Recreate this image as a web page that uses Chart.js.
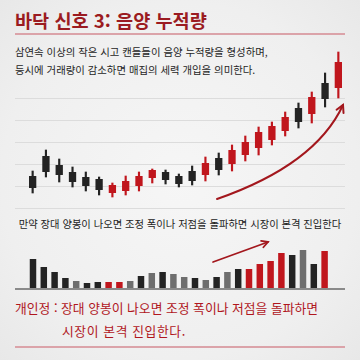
<!DOCTYPE html>
<html lang="ko">
<head>
<meta charset="utf-8">
<script src="https://cdn.jsdelivr.net/npm/chart.js@4.4.1/dist/chart.umd.min.js"></script>
<style>
  html, body { margin: 0; padding: 0; }
  body {
    width: 360px; height: 360px; position: relative; overflow: hidden;
    background: radial-gradient(ellipse at center, #f6f6f6 0%, #efefef 70%, #e8e8e8 100%);
    font-family: "Noto Sans CJK KR", "Noto Sans", sans-serif;
  }
  .abs { position: absolute; white-space: nowrap; }
  #title { left: 15px; top: 6px; font-size: 18.6px; font-weight: 700; color: #9b1b21; }
  .rule { position: absolute; left: 15px; width: 330px; height: 1.5px; background: #dba3a9; }
  .desc { left: 15px; font-size: 10.4px; color: #262626; }
  #mid { left: 15px; width: 330px; top: 216px; text-align: center; font-size: 10.3px; color: #222; }
  .note { font-size: 12.8px; color: #b0161d; }
  canvas { position: absolute; }
</style>
</head>
<body>
<div id="title" class="abs">바닥 신호 3: 음양 누적량</div>
<div class="rule" style="top:33px"></div>
<div class="abs desc" style="top:44px">삼연속 이상의 작은 시고 캔들들이 음양 누적량을 형성하며,</div>
<div class="abs desc" style="top:62px">등시에 거래량이 감소하면 매집의 세력 개입을 의미한다.</div>

<canvas id="candleChart" width="330" height="165" style="left:15px; top:45px"></canvas>

<div id="mid" class="abs">만약 장대 양봉이 나오면 조정 폭이나 저점을 돌파하면 시장이 본격 진입한다</div>

<canvas id="volumeChart" width="330" height="57" style="left:15px; top:235px"></canvas>

<div class="abs note" style="left:15px; top:298px">개인정 : 장대 양봉이 나오면 조정 폭이나 저점을 돌파하면</div>
<div class="abs note" style="left:62px; top:321px; letter-spacing:0.6px">시장이 본격 진입한다.</div>
<div class="rule" style="top:346px"></div>

<script>
// 캔들 데이터 (시가, 고가, 저가, 종가)
const candleOpen  = [34, 54, 45, 38, 33, 31, 17, 19, 24, 32, 38, 34, 39, 35, 52, 46, 55, 62, 70, 79, 102, 96, 127, 122];
const candleHigh  = [39, 60, 51, 43, 38, 33, 27, 34, 38, 41, 40, 36, 44, 53, 57, 65, 74, 83, 88, 98, 107, 118, 137, 158];
const candleLow   = [17, 33, 28, 23, 19, 15, 13, 15, 19, 27, 26, 23, 25, 29, 35, 39, 49, 55, 65, 74, 82, 87, 103, 112];
const candleClose = [22, 38, 35, 28, 24, 20, 25, 29, 34, 40, 30, 26, 29, 47, 40, 60, 68, 78, 84, 93, 88, 113, 111, 148];
const gridTicks = [2, 24, 46, 68, 90, 112];

// 거래량 데이터
const volumes    = [29, 21, 16, 10, 7, 5, 6, 6, 6, 7, 12, 15, 16, 14, 11, 10, 8, 11, 16, 19, 19, 24, 27, 35, 33, 38, 24, 37];
const volumeType = ['down', 'down', 'down', 'down', 'flat', 'down', 'down', 'up', 'up', 'flat',
                    'down', 'flat', 'down', 'flat', 'flat', 'down', 'flat', 'down', 'flat', 'down',
                    'up', 'up', 'up', 'up', 'down', 'flat', 'down', 'up'];

const RED = '#c0161d';
const DARK = '#232323';
const GRAY = '#6e6e6e';
const ARROW = '#a3171d';

const labels = candleOpen.map((_, i) => i + 1);
const candleColors = candleOpen.map((o, i) => candleClose[i] >= o ? RED : DARK);

function drawArrowHead(ctx, fromX, fromY, toX, toY, size) {
    const ang = Math.atan2(toY - fromY, toX - fromX);
    ctx.beginPath();
    ctx.moveTo(toX - size * Math.cos(ang - 0.5), toY - size * Math.sin(ang - 0.5));
    ctx.lineTo(toX, toY);
    ctx.lineTo(toX - size * Math.cos(ang + 0.5), toY - size * Math.sin(ang + 0.5));
    ctx.stroke();
}

// 가로 격자선 (캔버스 전체 폭)
const gridPlugin = {
    id: 'gridFull',
    beforeDatasetsDraw(chart) {
        const { ctx, scales: { y } } = chart;
        ctx.save();
        ctx.strokeStyle = '#dcdcdc';
        ctx.lineWidth = 1;
        gridTicks.forEach(t => {
            const py = Math.round(y.getPixelForValue(t)) + 0.5;
            ctx.beginPath();
            ctx.moveTo(0, py);
            ctx.lineTo(chart.width, py);
            ctx.stroke();
        });
        ctx.restore();
    }
};

// 상승 곡선 화살표
const curveArrow = {
    id: 'curveArrow',
    afterDatasetsDraw(chart) {
        const { ctx, scales: { x, y } } = chart;
        const sx = x.getPixelForValue(13.87), sy = y.getPixelForValue(11);
        const cx = x.getPixelForValue(21.25), cy = y.getPixelForValue(45);
        const ex = x.getPixelForValue(23.35), ey = y.getPixelForValue(105);
        ctx.save();
        ctx.strokeStyle = ARROW;
        ctx.lineWidth = 2;
        ctx.lineCap = 'round';
        ctx.beginPath();
        ctx.moveTo(sx, sy);
        ctx.quadraticCurveTo(cx, cy, ex, ey);
        ctx.stroke();
        drawArrowHead(ctx, cx, cy, ex, ey, 8);
        ctx.restore();
    }
};

new Chart(document.getElementById('candleChart').getContext('2d'), {
    type: 'bar',
    data: {
        labels: labels,
        datasets: [
            {
                label: '꼬리',
                data: candleLow.map((l, i) => [l, candleHigh[i]]),
                backgroundColor: candleColors,
                barThickness: 1.5,
                grouped: false,
                order: 2
            },
            {
                label: '몸통',
                data: candleOpen.map((o, i) => [o, candleClose[i]]),
                backgroundColor: candleColors,
                barPercentage: 0.55,
                categoryPercentage: 1,
                grouped: false,
                order: 1
            }
        ]
    },
    options: {
        responsive: false,
        animation: false,
        layout: { padding: { left: 11, right: 0, top: 0, bottom: 0 } },
        plugins: { legend: { display: false }, tooltip: { enabled: false } },
        scales: {
            x: { display: false },
            y: { display: false, min: 0, max: 165 }
        }
    },
    plugins: [gridPlugin, curveArrow]
});

// 거래량 기준선 + 화살표
const volumeDeco = {
    id: 'volumeDeco',
    afterDatasetsDraw(chart) {
        const { ctx, scales: { x, y } } = chart;
        ctx.save();
        const base = y.getPixelForValue(0) + 1;
        ctx.strokeStyle = '#8a8a8a';
        ctx.lineWidth = 2;
        ctx.beginPath();
        ctx.moveTo(0, base);
        ctx.lineTo(chart.width, base);
        ctx.stroke();

        const sx = x.getPixelForValue(16.67), sy = y.getPixelForValue(26);
        const ex = x.getPixelForValue(21.76), ey = y.getPixelForValue(46);
        ctx.strokeStyle = ARROW;
        ctx.lineWidth = 1.8;
        ctx.lineCap = 'round';
        ctx.beginPath();
        ctx.moveTo(sx, sy);
        ctx.lineTo(ex, ey);
        ctx.stroke();
        drawArrowHead(ctx, sx, sy, ex, ey, 7);
        ctx.restore();
    }
};

new Chart(document.getElementById('volumeChart').getContext('2d'), {
    type: 'bar',
    data: {
        labels: volumes.map((_, i) => i + 1),
        datasets: [{
            label: '거래량',
            data: volumes,
            backgroundColor: volumeType.map(t => t === 'up' ? RED : (t === 'down' ? DARK : GRAY)),
            barPercentage: 0.6,
            categoryPercentage: 1
        }]
    },
    options: {
        responsive: false,
        animation: false,
        layout: { padding: { left: 12.6, right: 15, top: 0, bottom: 4 } },
        plugins: { legend: { display: false }, tooltip: { enabled: false } },
        scales: {
            x: { display: false },
            y: { display: false, min: 0, max: 53 }
        }
    },
    plugins: [volumeDeco]
});
</script>
</body>
</html>
